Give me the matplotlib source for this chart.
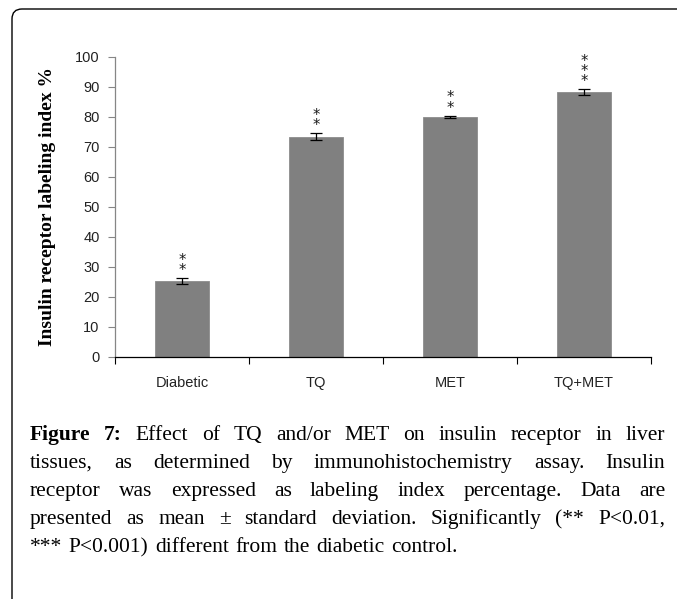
import matplotlib
matplotlib.use("Agg")
import matplotlib.pyplot as plt
from matplotlib.patches import FancyBboxPatch
from matplotlib.ticker import FixedLocator

# data
groups = ["Diabetic", "TQ", "MET", "TQ+MET"]
means = [25.4, 73.5, 80.1, 88.3]
sds = [1.0, 1.2, 0.4, 1.0]
stars = ["**", "**", "**", "***"]

caption_lines = [
    [("Figure", True), ("7:", True), "Effect", "of", "TQ", "and/or", "MET", "on",
     "insulin", "receptor", "in", "liver"],
    ["tissues,", "as", "determined", "by", "immunohistochemistry", "assay.", "Insulin"],
    ["receptor", "was", "expressed", "as", "labeling", "index", "percentage.", "Data", "are"],
    ["presented", "as", "mean", "\u00b1", "standard", "deviation.", "Significantly",
     "(**", "P<0.01,"],
    ["***", "P<0.001)", "different", "from", "the", "diabetic", "control."],
]

W, H = 677, 599
fig = plt.figure(figsize=(W / 100, H / 100), dpi=100)
fig.patch.set_facecolor("white")

# axes rectangle measured in pixels
x_left, x_right, y_bot, y_top = 115, 651, 357, 57
ax = fig.add_axes([x_left / W, 1 - y_bot / H, (x_right - x_left) / W, (y_bot - y_top) / H])

xs = range(len(groups))
ax.bar(xs, means, width=0.4, color="#808080", edgecolor="#8c8c8c", linewidth=0.6, zorder=2)
ax.errorbar(xs, means, yerr=sds, fmt="none", ecolor="black", elinewidth=0.9,
            capsize=4, capthick=0.9, zorder=3)

for x, m, s, st in zip(xs, means, sds, stars):
    ax.annotate("\n".join(st), xy=(x, m + s), xytext=(0, 0), textcoords="offset pixels",
                ha="center", va="bottom", fontsize=10.5, color="#1a1a1a",
                family="DejaVu Sans", linespacing=0.6)

ax.set_xlim(-0.5, len(groups) - 0.5)
ax.set_ylim(0, 100)
ax.set_yticks(range(0, 101, 10))
ax.set_xticks(list(xs))
ax.set_xticklabels(groups)
ax.xaxis.set_minor_locator(FixedLocator([i - 0.5 for i in range(len(groups) + 1)]))
ax.tick_params(axis="x", which="major", length=0, pad=14)
ax.tick_params(axis="x", which="minor", length=5, direction="out", color="black", width=0.8)
ax.tick_params(axis="y", length=5, direction="out", color="#868686", width=0.8, pad=6)
for lab in ax.get_xticklabels() + ax.get_yticklabels():
    lab.set_family("Liberation Sans")
    lab.set_fontsize(10.5)
    lab.set_color("#222222")
for side in ("top", "right"):
    ax.spines[side].set_visible(False)
ax.spines["left"].set_color("#868686")
ax.spines["left"].set_linewidth(0.9)
ax.spines["bottom"].set_color("black")
ax.spines["bottom"].set_linewidth(0.9)

fig.text(48 / W, 1 - 206 / H, "Insulin receptor labeling index %", rotation=90,
         ha="center", va="center", fontsize=14, fontweight="bold",
         family="Liberation Serif")

# frame around the figure (open to the right and bottom)
frame = FancyBboxPatch((12, -40), W + 40, H + 40 - 9, boxstyle="round,pad=0,rounding_size=10",
                       transform=None, facecolor="none", edgecolor="black", linewidth=1.0)
fig.add_artist(frame)

# justified caption
renderer = fig.canvas.get_renderer()
cap_x0, cap_x1 = 30, 665
cap_y0, cap_dy = 440, 28
cap_fs = 15.5
for i, line in enumerate(caption_lines):
    words = [w if isinstance(w, tuple) else (w, False) for w in line]
    base_y = 1 - (cap_y0 + i * cap_dy) / H
    arts = []
    for text, bold in words:
        t = fig.text(0, base_y, text, fontsize=cap_fs, family="Liberation Serif",
                     fontweight="bold" if bold else "normal", va="baseline", ha="left")
        arts.append(t)
    widths = [a.get_window_extent(renderer).width for a in arts]
    if i == len(caption_lines) - 1:
        gap = 0.3 * cap_fs * 100 / 72
    else:
        gap = (cap_x1 - cap_x0 - sum(widths)) / (len(arts) - 1)
    x = cap_x0
    for a, w in zip(arts, widths):
        a.set_x(x / W)
        x += w + gap

fig.savefig("out.png", dpi=100, facecolor="white")
